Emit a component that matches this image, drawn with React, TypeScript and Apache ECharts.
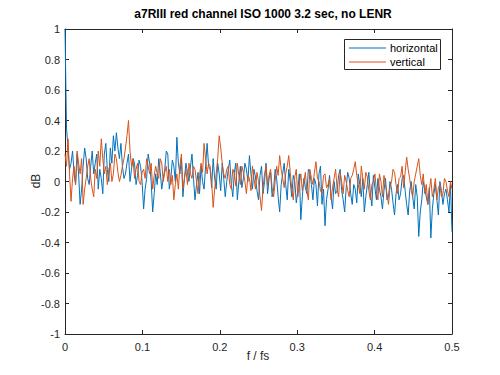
import React, { useEffect, useRef } from "react";
import * as echarts from "echarts";

const TITLE = "a7RIII red channel ISO 1000 3.2 sec, no LENR";
const X_LABEL = "f / fs";
const Y_LABEL = "dB";
const SERIES_NAMES = ["horizontal", "vertical"];

// f / fs sampled at i/512, i = 0..256
const horizontal = [
  1.0, 0.35, 0.22, 0.08, 0.12, 0.20, 0.05, -0.02, 0.18, 0.05,
  -0.15, -0.05, 0.10, 0.22, 0.15, 0.02, -0.02, 0.10, 0.20, 0.05,
  0.12, 0.18, -0.05, 0.08, 0.02, -0.08, 0.18, 0.25, 0.08, 0.00,
  0.22, 0.12, 0.30, 0.20, 0.32, 0.22, 0.15, 0.25, 0.10, 0.02,
  0.05, 0.12, 0.18, 0.00, 0.08, 0.15, 0.12, -0.02, 0.04, 0.14,
  0.10, 0.00, -0.18, -0.05, 0.02, 0.18, 0.12, 0.00, -0.20, -0.08,
  0.05, -0.02, 0.15, 0.06, -0.05, 0.02, 0.08, 0.20, 0.18, -0.05,
  0.02, 0.14, 0.10, 0.00, 0.29, 0.12, 0.05, 0.15, -0.10, 0.02,
  0.12, 0.06, 0.00, 0.10, 0.18, 0.02, -0.12, -0.02, 0.06, -0.08,
  0.10, 0.00, -0.05, 0.10, 0.25, 0.10, 0.08, -0.04, 0.15, 0.02,
  -0.05, 0.12, 0.05, -0.06, 0.12, 0.02, -0.10, 0.00, 0.08, 0.14,
  -0.02, -0.10, 0.06, 0.12, -0.12, 0.00, 0.10, -0.04, 0.02, 0.12,
  0.08, 0.00, 0.17, 0.05, -0.05, 0.08, 0.03, -0.06, -0.12, 0.04,
  0.10, -0.08, 0.00, 0.12, -0.08, 0.02, 0.06, -0.10, -0.05, 0.08,
  0.02, -0.10, -0.20, -0.02, 0.05, 0.12, -0.02, -0.12, 0.08, 0.00,
  -0.10, 0.04, 0.00, -0.14, -0.06, 0.05, -0.25, -0.10, 0.02, -0.04,
  -0.08, 0.08, 0.06, -0.02, -0.12, 0.02, -0.02, -0.16, 0.05, 0.10,
  -0.15, -0.05, -0.29, -0.12, -0.05, 0.04, -0.10, -0.18, 0.00, -0.08,
  -0.06, 0.04, 0.08, -0.06, -0.12, -0.20, -0.04, 0.06, 0.02, -0.08,
  -0.15, -0.02, -0.05, -0.14, 0.05, -0.02, -0.10, 0.02, -0.20, -0.10,
  -0.02, 0.06, -0.08, -0.16, 0.04, -0.04, -0.12, 0.02, -0.05, -0.10,
  -0.18, -0.06, 0.02, -0.12, -0.10, 0.00, -0.05, -0.14, -0.22, -0.08,
  -0.02, -0.12, -0.08, 0.02, 0.04, -0.06, -0.15, -0.22, -0.06, 0.00,
  -0.10, -0.18, -0.02, -0.10, -0.36, -0.20, -0.12, 0.00, -0.05, -0.10,
  -0.15, -0.04, -0.37, -0.18, -0.08, -0.02, -0.12, -0.22, 0.00, -0.06,
  -0.15, -0.08, -0.05, -0.12, -0.20, -0.02, -0.33,
];

const vertical = [
  0.18, 0.10, 0.28, 0.05, -0.13, 0.02, 0.10, -0.02, 0.20, 0.12,
  0.05, 0.15, -0.15, -0.05, 0.02, 0.10, 0.15, 0.02, -0.05, -0.10,
  0.08, 0.02, 0.20, 0.10, 0.28, 0.15, 0.05, 0.10, -0.02, 0.08,
  0.12, 0.00, 0.05, 0.18, 0.15, 0.06, 0.00, 0.04, 0.10, 0.15,
  0.22, 0.30, 0.40, 0.20, 0.10, 0.15, 0.02, 0.08, 0.12, 0.00,
  -0.02, 0.06, 0.08, 0.02, 0.15, 0.10, 0.05, 0.12, -0.05, 0.04,
  0.10, 0.05, 0.02, 0.15, 0.12, 0.00, 0.06, 0.10, 0.00, 0.08,
  -0.02, 0.04, -0.12, -0.02, 0.05, -0.05, 0.10, 0.18, -0.05, 0.02,
  0.08, -0.02, 0.12, 0.05, 0.02, 0.10, 0.08, 0.00, -0.08, 0.04,
  0.12, 0.06, 0.25, 0.15, 0.05, 0.12, 0.10, 0.00, -0.17, -0.05,
  0.05, 0.15, 0.30, 0.22, 0.12, 0.05, 0.02, 0.08, 0.10, -0.02,
  -0.05, 0.08, 0.05, -0.03, 0.12, 0.04, -0.02, 0.10, 0.06, 0.00,
  -0.08, 0.04, 0.02, -0.06, 0.10, 0.02, -0.05, 0.06, 0.00, -0.10,
  -0.19, -0.04, 0.05, 0.10, -0.02, 0.04, 0.08, -0.04, -0.10, 0.00,
  0.10, 0.04, 0.17, 0.08, 0.02, -0.04, 0.05, 0.10, 0.17, 0.06,
  -0.05, -0.12, 0.03, 0.08, -0.10, -0.02, 0.05, -0.06, 0.00, 0.06,
  -0.06, -0.12, 0.08, 0.02, -0.02, 0.06, 0.13, 0.02, 0.00, -0.06,
  -0.08, 0.04, 0.05, -0.04, -0.02, 0.02, -0.12, -0.04, 0.02, 0.08,
  -0.05, -0.10, 0.06, 0.00, -0.08, 0.04, 0.00, -0.06, -0.10, 0.02,
  0.04, 0.08, 0.13, 0.04, -0.02, -0.08, 0.10, 0.02, -0.05, 0.06,
  0.03, -0.06, -0.12, -0.02, 0.00, 0.05, -0.06, -0.12, 0.05, 0.00,
  -0.10, 0.04, -0.02, -0.08, -0.15, -0.04, 0.00, 0.08, 0.06, -0.02,
  -0.08, 0.02, 0.03, 0.10, -0.04, 0.06, 0.16, 0.08, 0.02, -0.06,
  -0.10, 0.00, 0.05, 0.10, 0.15, 0.04, -0.02, 0.05, -0.08, -0.02,
  -0.15, -0.06, 0.02, -0.10, -0.05, 0.02, -0.12, -0.04, -0.02, -0.10,
  -0.08, 0.02, 0.00, -0.06, -0.10, 0.00, -0.05,
];

const N_FFT = 512;
const freqs = horizontal.map((_, i) => i / N_FFT);

const BLUE = "#0072BD";
const ORANGE = "#D95319";
const AXIS = "#262626";
const FONT = "'Liberation Sans', Arial, sans-serif";

export default function App() {
  const ref = useRef<HTMLDivElement>(null);
  useEffect(() => {
    if (!ref.current) return;
    const chart = echarts.init(ref.current, undefined, { renderer: "svg" });
    const axisCommon = {
      type: "value" as const,
      axisLine: { show: true, onZero: false, lineStyle: { color: AXIS, width: 1 } },
      axisTick: { show: true, inside: true, length: 4, lineStyle: { color: AXIS } },
      splitLine: { show: false },
    };
    chart.setOption({
      animation: false,
      backgroundColor: "#ffffff",
      textStyle: { fontFamily: FONT },
      title: {
        text: TITLE,
        left: 258,
        textAlign: "center",
        top: 3,
        textStyle: { fontSize: 12, fontWeight: "bold", color: "#000", fontFamily: FONT },
      },
      grid: { left: 65, right: 48, top: 29, bottom: 41 },
      xAxis: [
        {
          ...axisCommon,
          position: "bottom",
          min: 0,
          max: 0.5,
          interval: 0.1,
          axisLabel: { fontSize: 11, color: AXIS, margin: 7, fontFamily: FONT },
        },
        {
          ...axisCommon,
          position: "top",
          min: 0,
          max: 0.5,
          interval: 0.1,
          axisLabel: { show: false },
        },
      ],
      yAxis: [
        {
          ...axisCommon,
          position: "left",
          min: -1,
          max: 1,
          interval: 0.2,
          axisLabel: { fontSize: 11, color: AXIS, margin: 5, fontFamily: FONT },
        },
        {
          ...axisCommon,
          position: "right",
          min: -1,
          max: 1,
          interval: 0.2,
          axisLabel: { show: false },
        },
      ],
      series: [
        {
          name: SERIES_NAMES[0],
          type: "line",
          data: freqs.map((f, i) => [f, horizontal[i]]),
          showSymbol: false,
          lineStyle: { color: BLUE, width: 1 },
          itemStyle: { color: BLUE },
          xAxisIndex: 0,
          yAxisIndex: 0,
        },
        {
          name: SERIES_NAMES[1],
          type: "line",
          data: freqs.map((f, i) => [f, vertical[i]]),
          showSymbol: false,
          lineStyle: { color: ORANGE, width: 1 },
          itemStyle: { color: ORANGE },
          xAxisIndex: 0,
          yAxisIndex: 0,
        },
      ],
      graphic: [
        {
          type: "text",
          x: 258,
          y: 356,
          style: { text: X_LABEL, fill: AXIS, font: `12px ${FONT}`, align: "center", verticalAlign: "middle" },
        },
        {
          type: "text",
          x: 36,
          y: 181,
          rotation: Math.PI / 2,
          style: { text: Y_LABEL, fill: AXIS, font: `12px ${FONT}`, align: "center", verticalAlign: "middle" },
        },
        {
          type: "rect",
          shape: { x: 344.5, y: 39.5, width: 96, height: 30 },
          style: { fill: "#fff", stroke: AXIS, lineWidth: 1 },
          z: 100,
        },
        {
          type: "line",
          shape: { x1: 349, y1: 48, x2: 386, y2: 48 },
          style: { stroke: BLUE, lineWidth: 1 },
          z: 101,
        },
        {
          type: "line",
          shape: { x1: 349, y1: 62, x2: 386, y2: 62 },
          style: { stroke: ORANGE, lineWidth: 1 },
          z: 101,
        },
        {
          type: "text",
          x: 390,
          y: 48,
          style: { text: SERIES_NAMES[0], fill: "#000", font: `11px ${FONT}`, verticalAlign: "middle" },
          z: 101,
        },
        {
          type: "text",
          x: 390,
          y: 62,
          style: { text: SERIES_NAMES[1], fill: "#000", font: `11px ${FONT}`, verticalAlign: "middle" },
          z: 101,
        },
      ],
    });
    return () => chart.dispose();
  }, []);
  return <div ref={ref} style={{ width: 500, height: 375, position: "absolute", left: 0, top: 0 }} />;
}
